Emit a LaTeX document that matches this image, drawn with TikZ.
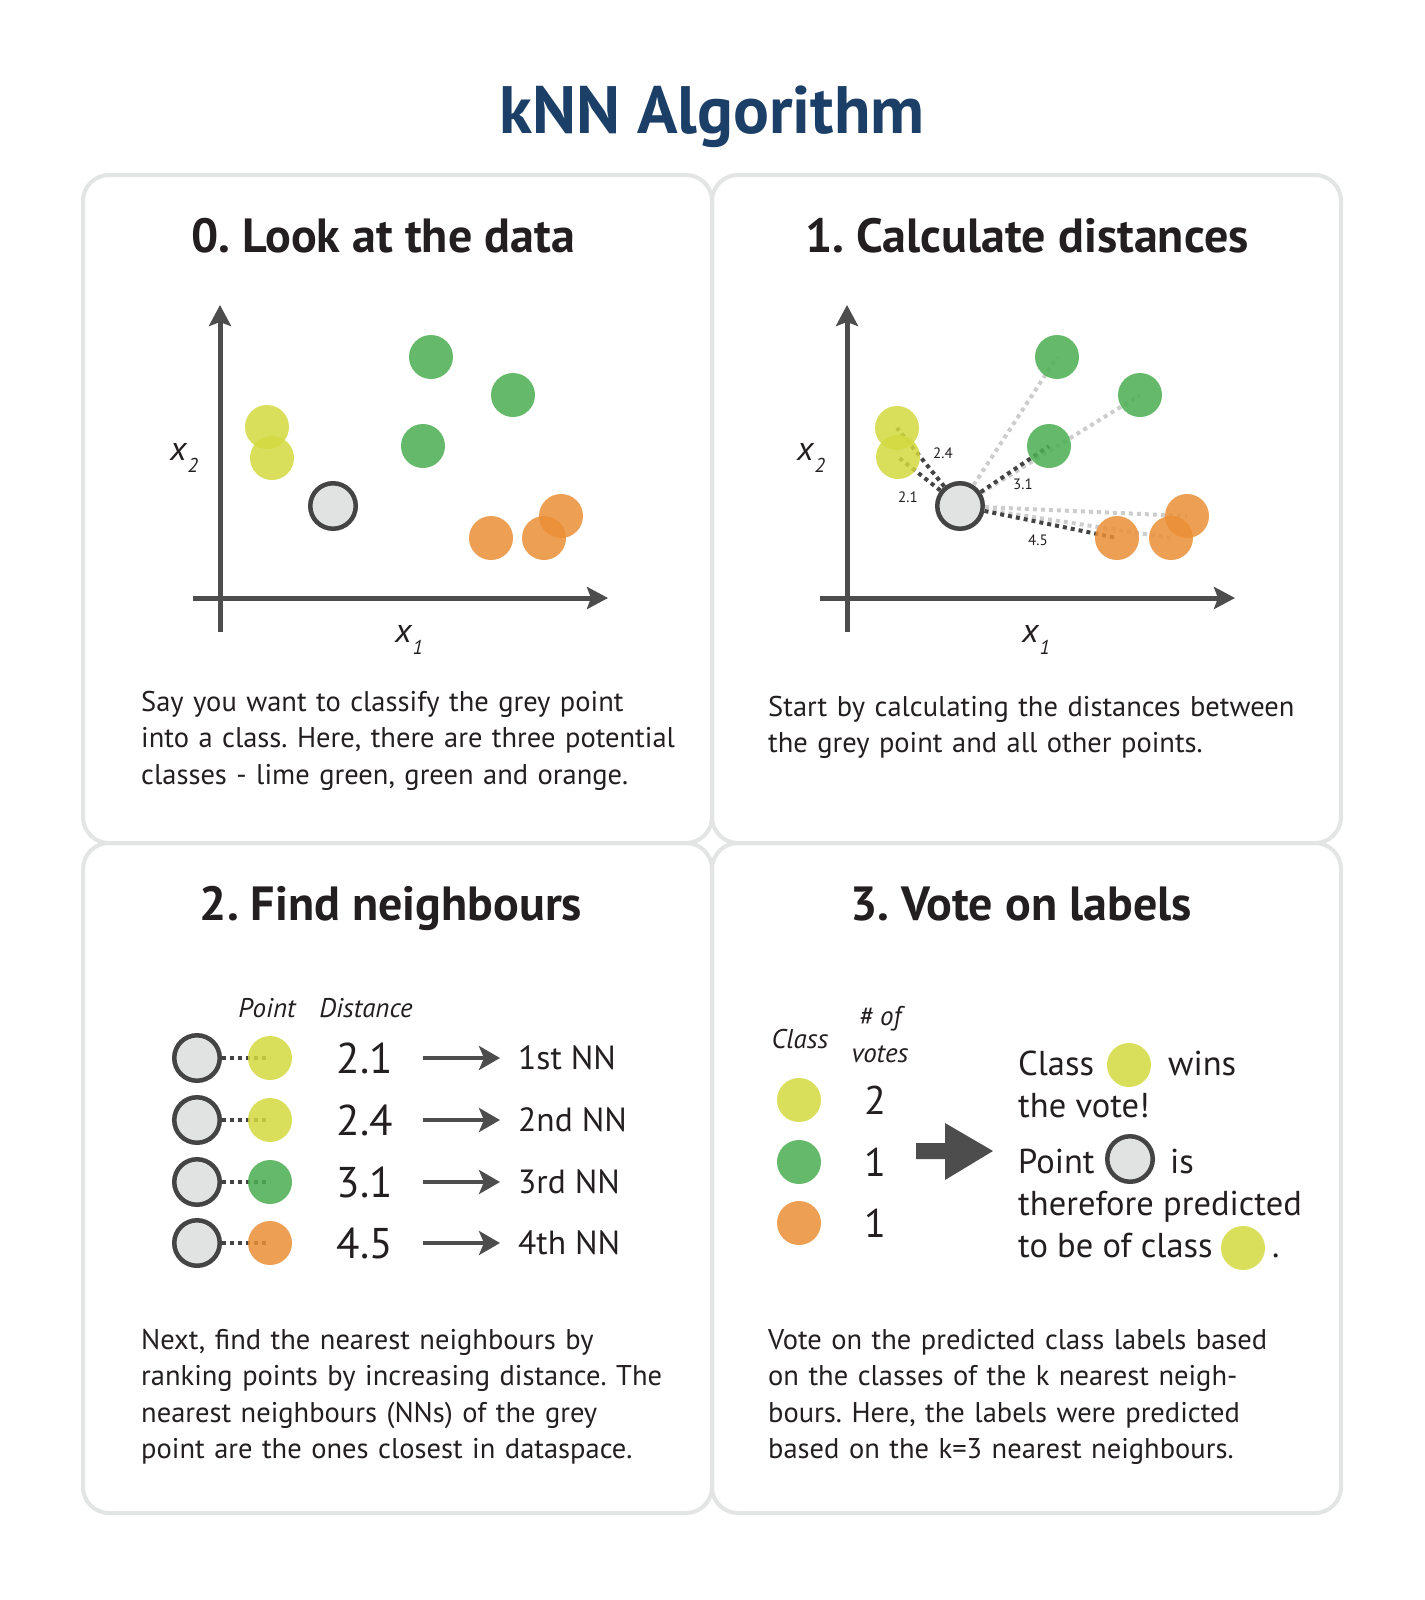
\documentclass[tikz,border=0pt]{standalone}
\usepackage{fontspec}
\setmainfont{PT Sans}
\usetikzlibrary{arrows.meta}
\frenchspacing
\definecolor{knnblue}{RGB}{28,63,104}
\definecolor{inkc}{RGB}{35,31,32}
\definecolor{axisc}{RGB}{77,77,77}
\definecolor{framec}{RGB}{227,228,228}
\definecolor{limec}{RGB}{211,218,63}
\definecolor{greenc}{RGB}{74,175,80}
\definecolor{orangec}{RGB}{235,143,54}
\definecolor{queryc}{RGB}{225,227,227}
\definecolor{edgec}{RGB}{68,68,68}
\definecolor{fardotc}{RGB}{204,206,206}

\begin{document}
\begin{tikzpicture}[x=1pt, y=-1pt,
	panel/.style={draw=framec, line width=4pt, rounded corners=26pt},
	datapt/.style={circle, inner sep=0pt, minimum size=44pt, fill opacity=0.85},
	limept/.style={datapt, fill=limec},
	greenpt/.style={datapt, fill=greenc},
	orangept/.style={datapt, fill=orangec},
	querypt/.style={circle, inner sep=0pt, minimum size=45.5pt, fill=queryc, draw=edgec, line width=4.5pt},
	axisline/.style={draw=axisc, line width=5pt, -{Stealth[length=21pt, width=22pt, inset=4pt]}},
	neardist/.style={draw=edgec, line width=4pt, dash pattern=on 4pt off 4pt},
	fardist/.style={neardist, draw=fardotc},
	titletext/.style={font=\fontsize{67}{72}\selectfont\bfseries, text=knnblue, anchor=base, inner sep=0pt},
	headtext/.style={font=\fontsize{48}{52}\selectfont\bfseries, text=inkc, anchor=base, inner sep=0pt},
	bodytext/.style={font=\fontsize{28.5}{36.5}\selectfont, text=inkc, anchor=base west, inner sep=0pt, text width=580pt, align=left},
	axlabel/.style={font=\fontsize{34}{34}\selectfont\itshape, text=inkc, anchor=base west, inner sep=0pt},
	distlabel/.style={font=\fontsize{15}{15}\selectfont, text=inkc, inner sep=0pt},
	colhead/.style={font=\fontsize{27}{30}\selectfont\itshape, text=inkc, anchor=base, inner sep=0pt},
	bignum/.style={font=\fontsize{43}{43}\selectfont, text=inkc, inner sep=0pt, minimum width=60pt},
	nnlabel/.style={font=\fontsize{33.5}{34}\selectfont, text=inkc, anchor=west, inner sep=0pt},
	nnarrow/.style={draw=axisc, line width=4pt, -{Stealth[length=21pt, width=24pt, inset=5pt]}, shorten <=28pt, shorten >=18pt},
	votenum/.style={font=\fontsize{40}{40}\selectfont, text=inkc, inner sep=0pt},
	votetext/.style={font=\fontsize{34.5}{35}\selectfont, text=inkc, anchor=base west, inner sep=0pt}]
			%%%%% START %%%%%
			\useasboundingbox (0,0) rectangle (1424,1600);
			\fill[white] (0,0) rectangle (1424,1600);
			
			\node[titletext] (title) at (712,133) {kNN Algorithm};
			
			% four panels
			\draw[panel] (83,175) rectangle (712,843);
			\draw[panel] (712,175) rectangle (1341,843);
			\draw[panel] (83,843) rectangle (712,1513);
			\draw[panel] (712,843) rectangle (1341,1513);
			
			\node[headtext] (head0) at (383,252) {0. Look at the data};
			\node[headtext] (head1) at (1027,252) {1. Calculate distances};
			\node[headtext] (head2) at (391,920) {2. Find neighbours};
			\node[headtext] (head3) at (1021,920) {3. Vote on labels};
			
			% panel 0
			\draw[axisline] (193,598) -- (608,598);
			\draw[axisline] (220,632) -- (220,305);
			\node[axlabel] (xa0) at (170,460) {x\kern1pt\raisebox{-12pt}{\fontsize{20}{20}\selectfont 2}};
			\node[axlabel] (xb0) at (395,642) {x\kern1pt\raisebox{-12pt}{\fontsize{20}{20}\selectfont 1}};
			\node[limept] (la0) at (267,427) {};
			\node[limept] (lb0) at (272,458) {};
			\node[greenpt] (ga0) at (431,357) {};
			\node[greenpt] (gb0) at (513,395) {};
			\node[greenpt] (gc0) at (423,446) {};
			\node[orangept] (oa0) at (491,538) {};
			\node[orangept] (ob0) at (544,538) {};
			\node[orangept] (oc0) at (561,516) {};
			\node[querypt] (q0) at (333,506) {};
			
			\node[bodytext] (text0) at (141,711) {Say you want to classify the grey point\\into a class. Here, there are three potential\\classes - lime green, green and orange.};
			
			% panel 1
			\draw[axisline] (820,598) -- (1235,598);
			\draw[axisline] (847,632) -- (847,305);
			\node[axlabel] (xa1) at (797,460) {x\kern1pt\raisebox{-12pt}{\fontsize{20}{20}\selectfont 2}};
			\node[axlabel] (xb1) at (1022,642) {x\kern1pt\raisebox{-12pt}{\fontsize{20}{20}\selectfont 1}};
			\node[querypt] (q1) at (960,506) {};
			\coordinate (la1c) at (897,428);
			\coordinate (lb1c) at (898,457);
			\coordinate (ga1c) at (1057,357);
			\coordinate (gb1c) at (1140,395);
			\coordinate (gc1c) at (1049,446);
			\coordinate (oa1c) at (1117,538);
			\coordinate (ob1c) at (1171,538);
			\coordinate (oc1c) at (1187,516);
			\draw[fardist] (q1) -- (ga1c);
			\draw[fardist] (q1) -- (gb1c);
			\draw[fardist] (q1) -- (ob1c);
			\draw[fardist] (q1) -- (oc1c);
			\draw[neardist] (q1) -- (la1c);
			\draw[neardist] (q1) -- (lb1c);
			\draw[neardist] (q1) -- (gc1c);
			\draw[neardist] (q1) -- (oa1c);
			\node[limept] (la1) at (la1c) {};
			\node[limept] (lb1) at (lb1c) {};
			\node[greenpt] (ga1) at (ga1c) {};
			\node[greenpt] (gb1) at (gb1c) {};
			\node[greenpt] (gc1) at (gc1c) {};
			\node[orangept] (oa1) at (oa1c) {};
			\node[orangept] (ob1) at (ob1c) {};
			\node[orangept] (oc1) at (oc1c) {};
			\node[distlabel] (d24) at (943,453) {2.4};
			\node[distlabel] (d21) at (908,497) {2.1};
			\node[distlabel] (d31) at (1023,484) {3.1};
			\node[distlabel] (d45) at (1038,540) {4.5};
			
			\node[bodytext] (text1) at (768,716) {Start by calculating the distances between\\the grey point and all other points.};
			
			% panel 2
			\node[colhead] (hpoint) at (267,1017) {Point};
			\node[colhead] (hdist) at (366,1017) {Distance};
			
			\node[querypt] (r1q) at (197,1058) {};
			\coordinate (r1c) at (270,1058);
			\draw[neardist] (r1q) -- (r1c);
			\node[limept] (r1p) at (r1c) {};
			\node[bignum] (r1d) at (365,1058) {2.1};
			\node[nnlabel] (r1n) at (518,1058) {1st NN};
			\draw[nnarrow] (r1d) -- (r1n);
			
			\node[querypt] (r2q) at (197,1120) {};
			\coordinate (r2c) at (270,1120);
			\draw[neardist] (r2q) -- (r2c);
			\node[limept] (r2p) at (r2c) {};
			\node[bignum] (r2d) at (365,1120) {2.4};
			\node[nnlabel] (r2n) at (518,1120) {2nd NN};
			\draw[nnarrow] (r2d) -- (r2n);
			
			\node[querypt] (r3q) at (197,1182) {};
			\coordinate (r3c) at (270,1182);
			\draw[neardist] (r3q) -- (r3c);
			\node[greenpt] (r3p) at (r3c) {};
			\node[bignum] (r3d) at (365,1182) {3.1};
			\node[nnlabel] (r3n) at (518,1182) {3rd NN};
			\draw[nnarrow] (r3d) -- (r3n);
			
			\node[querypt] (r4q) at (197,1243) {};
			\coordinate (r4c) at (270,1243);
			\draw[neardist] (r4q) -- (r4c);
			\node[orangept] (r4p) at (r4c) {};
			\node[bignum] (r4d) at (365,1243) {4.5};
			\node[nnlabel] (r4n) at (518,1243) {4th NN};
			\draw[nnarrow] (r4d) -- (r4n);
			
			\node[bodytext] (text2) at (141,1349) {Next, find the nearest neighbours by\\ranking points by increasing distance. The\\nearest neighbours (NNs) of the grey\\point are the ones closest in dataspace.};
			
			% panel 3
			\node[colhead] (hclass) at (800,1048) {Class};
			\node[colhead] (hof) at (880,1025) {\# of};
			\node[colhead] (hvotes) at (880,1062) {votes};
			\node[limept] (vl) at (799,1100) {};
			\node[greenpt] (vg) at (799,1162) {};
			\node[orangept] (vo) at (799,1223) {};
			\node[votenum] (nl) at (875,1100) {2};
			\node[votenum] (ng) at (875,1162) {1};
			\node[votenum] (no) at (875,1223) {1};
			
			\fill[axisc] (916,1143) -- (945,1143) -- (945,1123) -- (993,1151) -- (945,1180) -- (945,1159) -- (916,1159) -- cycle;
			
			\node[votetext] (wclass) at (1018,1075) {Class};
			\node[limept] (wdot) at (1129,1065) {};
			\node[votetext] (wwins) at (1168,1075) {wins};
			\node[votetext] (wvote) at (1018,1117) {the vote!};
			\node[votetext] (ppoint) at (1018,1173) {Point};
			\node[querypt] (pdot) at (1130,1159) {};
			\node[votetext] (pis) at (1170,1173) {is};
			\node[votetext] (pthere) at (1018,1215) {therefore predicted};
			\node[votetext] (pto) at (1018,1257) {to be of class};
			\node[limept] (pdot2) at (1243,1248) {};
			\node[votetext] (pstop) at (1272,1257) {.};
			
			\node[bodytext] (text3) at (768,1349) {Vote on the predicted class labels based\\on the classes of the k nearest neigh-\\bours. Here, the labels were predicted\\based on the k=3 nearest neighbours.};
			%%%%% END %%%%%
\end{tikzpicture}
\end{document}
